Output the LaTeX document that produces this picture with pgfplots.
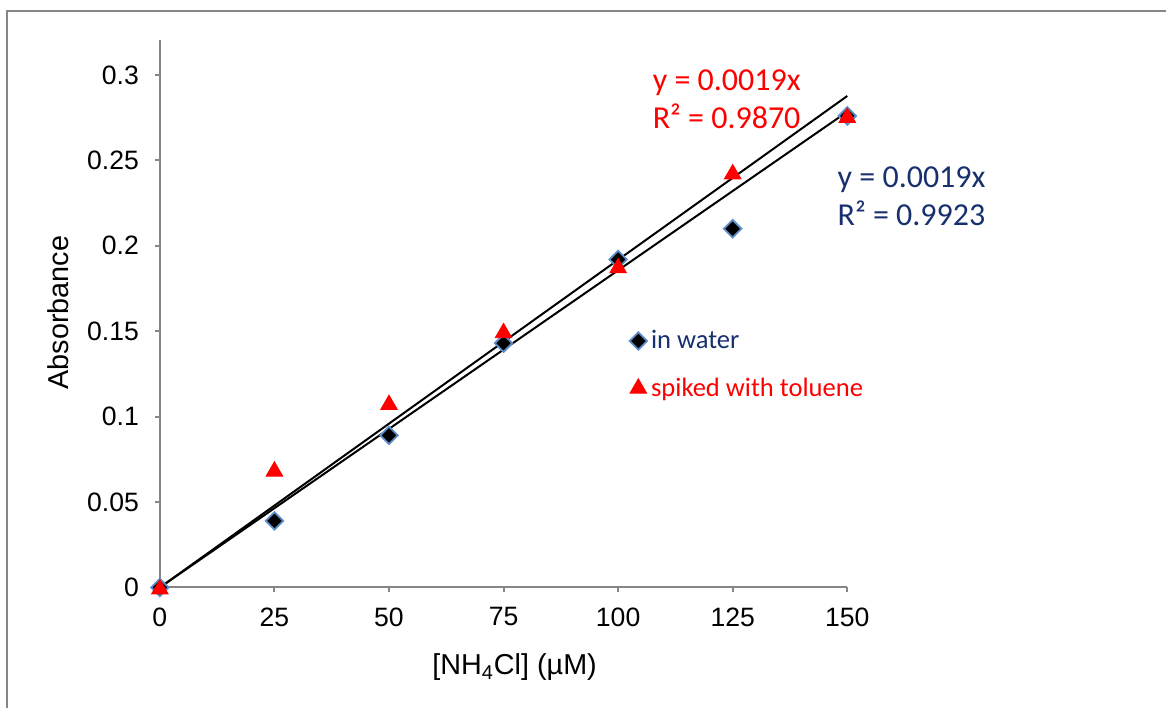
\documentclass[border=0pt]{standalone}
\usepackage{pgfplots}
\pgfplotsset{compat=1.18}
\usepackage{fontspec}
\setmainfont{Liberation Sans}
\newfontfamily\calibri{Carlito}
\definecolor{axisgray}{HTML}{868686}
\definecolor{navy}{HTML}{17306E}
\definecolor{mkblue}{HTML}{5F8FCB}
\begin{document}
\begin{tikzpicture}
\path (0,0) rectangle (583.5pt,354.5pt);
\draw[axisgray, line width=1pt] (3.5pt,0pt) -- (3.5pt,349pt) -- (583.5pt,349pt);
\begin{axis}[
  at={(80pt,60.5pt)}, anchor=south west,
  scale only axis, width=344pt, height=274pt,
  xmin=0, xmax=150, ymin=0, ymax=0.3205,
  axis lines*=left,
  axis line style={-, draw=axisgray, line width=1pt},
  tick style={draw=axisgray, line width=1pt},
  tick align=outside, major tick length=2.5pt,
  xtick={0,25,50,75,100,125,150},
  ytick={0,0.05,0.1,0.15,0.2,0.25,0.3},
  yticklabels={0,0.05,0.1,0.15,0.2,0.25,0.3},
  /pgf/number format/assume math mode=true,
  tick label style={font=\fontsize{13.3}{16}\selectfont},
  xticklabel style={yshift=-4pt},
  yticklabel style={xshift=-4.5pt},
  xlabel={[NH\textsubscript{4}Cl] (µM)},
  ylabel={Absorbance},
  label style={font=\fontsize{14.4}{17}\selectfont},
  xlabel style={at={(axis description cs:0.516,0)}, anchor=center, yshift=-40pt},
  ylabel style={at={(axis description cs:0,0.502)}, anchor=center, xshift=0pt, yshift=51pt},
  clip=false,
  legend image code/.code={\draw[mark repeat=2,mark phase=2,#1] plot coordinates {(0pt,0pt)(4pt,0pt)(8pt,0pt)};},
  legend style={at={(axis description cs:0.674,0.485)}, anchor=north west, draw=none, fill=none,
    font=\calibri\fontsize{13.3}{16}\selectfont, row sep=9pt},
  legend cell align=left,
]
\addplot[only marks, mark=square*, mark size=3.1pt, mark options={rotate=45, fill=black, draw=mkblue, line width=0.9pt}]
  coordinates {(0,0) (25,0.039) (50,0.089) (75,0.143) (100,0.192) (125,0.210) (150,0.276)};
\addlegendentry{\textcolor{navy}{in water}}
\addplot[only marks, mark=triangle*, mark size=4.8pt, mark options={fill=red, draw=red}]
  coordinates {(0,-0.001) (25,0.068) (50,0.107) (75,0.149) (100,0.187) (125,0.242) (150,0.275)};
\addlegendentry{\textcolor{red}{spiked with toluene}}
\addplot[black, line width=1pt, forget plot] coordinates {(0,0) (150,0.2877)};
\addplot[black, line width=1pt, forget plot] coordinates {(0,0) (150,0.2785)};
\end{axis}
\node[anchor=west, align=left, text=red, font=\calibri\fontsize{16}{19}\selectfont, inner sep=0pt] at (326.5pt,305pt) {y = 0.0019x\\R² = 0.9870};
\node[anchor=west, align=left, text=navy, font=\calibri\fontsize{16}{19}\selectfont, inner sep=0pt] at (419pt,256.5pt) {y = 0.0019x\\R² = 0.9923};
\end{tikzpicture}
\end{document}
